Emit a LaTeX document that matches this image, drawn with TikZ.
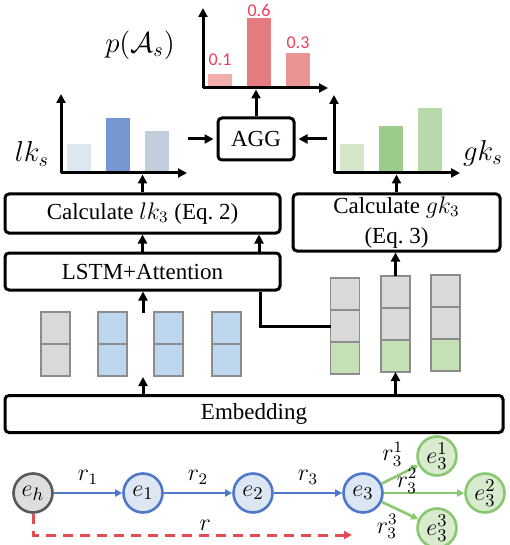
\documentclass[tikz,border=0pt]{standalone}
\usepackage{fontspec}
\setmainfont{Liberation Serif}
\newfontfamily\valfont{Carlito}
\usepackage{tikz}
\usetikzlibrary{arrows.meta,positioning}
\definecolor{cellgray}{RGB}{217,217,217}
\definecolor{cellblue}{RGB}{189,215,238}
\definecolor{cellgreen}{RGB}{197,224,180}
\definecolor{cellline}{RGB}{140,140,140}
\definecolor{lkA}{RGB}{222,230,240}
\definecolor{lkB}{RGB}{117,151,209}
\definecolor{lkC}{RGB}{194,205,220}
\definecolor{gkA}{RGB}{211,230,202}
\definecolor{gkB}{RGB}{157,203,137}
\definecolor{gkC}{RGB}{184,217,170}
\definecolor{pA}{RGB}{240,174,174}
\definecolor{pB}{RGB}{228,123,126}
\definecolor{pC}{RGB}{233,148,149}
\definecolor{valred}{RGB}{240,60,90}
\definecolor{entgray}{RGB}{222,222,222}
\definecolor{entgrayline}{RGB}{89,89,89}
\definecolor{entblue}{RGB}{221,230,243}
\definecolor{relblue}{RGB}{79,120,200}
\definecolor{entgreen}{RGB}{216,235,207}
\definecolor{relgreen}{RGB}{137,199,112}
\definecolor{pathred}{RGB}{228,76,85}

\begin{document}
\begin{tikzpicture}[x=0.5pt, y=-0.5pt, node distance=34.2pt,
    font=\fontsize{11.5}{13}\selectfont,
    blk/.style={draw, line width=1.5pt, rounded corners=2pt, align=center},
    arr/.style={line width=1.5pt, -{Triangle[length=4.5pt,width=4.5pt]}},
    cell/.style={draw=cellline, line width=0.7pt, minimum width=14.5pt, minimum height=16pt, inner sep=0pt, outer sep=0pt},
    ent/.style={circle, line width=1.3pt, minimum size=19.5pt, inner sep=0pt, font=\fontsize{13}{15}\selectfont},
    rel/.style={line width=1pt, -{Triangle[length=3.5pt,width=3.5pt]}},
    rlab/.style={text=black, font=\fontsize{12}{14}\selectfont, inner sep=1pt},
    biglab/.style={font=\fontsize{14}{16}\selectfont},
    val/.style={font=\valfont\fontsize{9}{10}\selectfont, text=valred}]
    \useasboundingbox (0,0) rectangle (509,545);

    % boxes
    \node (emb) at (254,414) [blk, minimum width=249pt, minimum height=18.5pt] {Embedding};
    \node (lstm) at (142.5,271.5) [blk, minimum width=137.5pt, minimum height=18.5pt] {LSTM+Attention};
    \node (calclk) at (142.5,213.5) [blk, minimum width=137.5pt, minimum height=19.5pt] {Calculate $lk_3$ (Eq.~2)};
    \node (calcgk) at (396.5,222.5) [blk, minimum width=103.5pt, minimum height=28.5pt, inner ysep=1pt] {Calculate $gk_3$\\[2pt](Eq.~3)};
    \node (agg) at (256,139) [blk, minimum width=38pt, minimum height=21pt] {AGG};

    % embedding columns
    \foreach \n/\x/\f in {1/55.5/cellgray, 2/112.5/cellblue, 3/168.5/cellblue, 4/226.5/cellblue} {
        \node (b\n-1) at (\x,328) [cell, fill=\f] {};
        \node (b\n-2) [cell, fill=\f, below=0pt of b\n-1] {};
    }
    \foreach \n/\x/\y in {1/345/294, 2/395.5/292, 3/445.5/291} {
        \node (g\n-1) at (\x,\y) [cell, fill=cellgray] {};
        \node (g\n-2) [cell, fill=cellgray, below=0pt of g\n-1] {};
        \node (g\n-3) [cell, fill=cellgreen, below=0pt of g\n-2] {};
    }

    % flow
    \coordinate (lgap) at (143,377);
    \coordinate (ltop) at (143,313);
    \path [draw, arr] (emb.north -| lgap) -- (lgap);
    \path [draw, arr] (ltop) -- (ltop |- lstm.south);
    \path [draw, arr] (emb.north -| g2-3) -- (g2-3);
    \path [draw, arr] (g2-1) -- (g2-1 |- calcgk.south);
    \path [draw, arr] (lstm) -- (calclk);
    \path [draw, arr] ([xshift=58.25pt]lstm.north) -- ([xshift=58.25pt]calclk.south);
    \path [draw, line width=1.5pt] ([xshift=58.75pt]lstm.south) |- (g1-2.west);

    % lk chart
    \coordinate (lko) at (61,173);
    \foreach \x/\t/\c in {67/144/lkA, 106/118/lkB, 145/131/lkC}
        \fill[\c] (\x,173) rectangle (\x+23.5,\t);
    \path [draw, arr] (lko) -- ++(0,-79);
    \path [draw, arr] (lko) -- ++(126,0);
    \node (lklab) at (32,154) [biglab] {$lk_s$};
    \path [draw, arr, shorten >=0.75pt] (calclk) -- (calclk |- lko);

    % gk chart
    \coordinate (gko) at (334,173);
    \foreach \x/\t/\c in {340/144/gkA, 379/126/gkB, 418/108/gkC}
        \fill[\c] (\x,173) rectangle (\x+23.5,\t);
    \path [draw, arr] (gko) -- ++(0,-78);
    \path [draw, arr] (gko) -- ++(126,0);
    \node (gklab) at (483,153) [biglab] {$gk_s$};
    \path [draw, arr, shorten >=0.75pt] (calcgk) -- (calcgk |- gko);

    % aggregation
    \coordinate (lkout) at (188,139);
    \coordinate (gkout) at (327,139);
    \path [draw, arr, shorten >=1.5pt] (lkout) -- (agg);
    \path [draw, arr, shorten >=1.5pt] (gkout) -- (agg);

    % p chart
    \coordinate (po) at (203,88);
    \foreach \i/\x/\t/\c/\v/\ly in {1/208/74/pA/0.1/60, 2/247/18/pB/0.6/10, 3/286/53/pC/0.3/43} {
        \fill[\c] (\x,88) rectangle (\x+24,\t);
        \node (v\i) at (\x+12,\ly) [val] {\v};
    }
    \path [draw, arr] (po) -- ++(0,-80);
    \path [draw, arr] (po) -- ++(125,0);
    \node (plab) at (140,45) [biglab] {$p(\mathcal{A}_s)$};
    \path [draw, arr, shorten >=0.75pt] (agg) -- (agg |- po);

    % path graph
    \node (eh) at (33,493) [ent, draw=entgrayline, fill=entgray] {$e_h$};
    \node (e1) [ent, draw=relblue, fill=entblue, right=of eh] {$e_1$};
    \node (e2) [ent, draw=relblue, fill=entblue, right=of e1] {$e_2$};
    \node (e3) [ent, draw=relblue, fill=entblue, right=of e2] {$e_3$};
    \node (e31) at (437,456) [ent, draw=relgreen, fill=entgreen] {$e_3^1$};
    \node (e32) at (485,493) [ent, draw=relgreen, fill=entgreen] {$e_3^2$};
    \node (e33) at (437,528) [ent, draw=relgreen, fill=entgreen] {$e_3^3$};
    \path [draw, rel, relblue] (eh) -- node [rlab, above=3pt] (r1) {$r_1$} (e1);
    \path [draw, rel, relblue] (e1) -- node [rlab, above=3pt] (r2) {$r_2$} (e2);
    \path [draw, rel, relblue] (e2) -- node [rlab, above=3pt] (r3) {$r_3$} (e3);
    \path [draw, rel, relgreen, line width=1.3pt] (e3) -- node [rlab, pos=0.3, yshift=12pt] (r31) {$r_3^1$} (e31);
    \path [draw, rel, relgreen, line width=1.3pt] (e3) -- node [rlab, pos=0.29, yshift=6pt] (r32) {$r_3^2$} (e32);
    \path [draw, rel, relgreen, line width=1.3pt] (e3) -- node [rlab, pos=0.15, yshift=-11pt] (r33) {$r_3^3$} (e33);
    \coordinate (rend) at (352,535);
    \path [draw, pathred, line width=1.5pt, dash pattern=on 5pt off 3.5pt, -{Triangle[length=4pt,width=4pt]}]
        (eh) |- node [rlab, pos=0.77, above=0.5pt] (rlab) {$r$} (rend);
\end{tikzpicture}
\end{document}
